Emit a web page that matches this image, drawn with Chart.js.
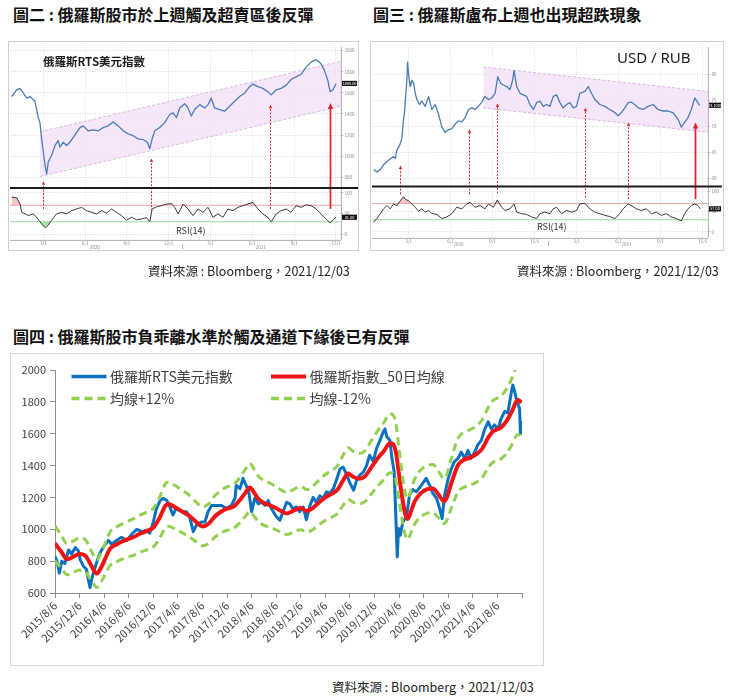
<!DOCTYPE html>
<html lang="zh-Hant">
<head>
<meta charset="utf-8">
<title>俄羅斯股市與盧布</title>
<script src="https://cdn.jsdelivr.net/npm/chart.js@4.4.1/dist/chart.umd.min.js"></script>
<style>
  html, body { margin:0; padding:0; background:#fff; }
  body { width:733px; height:696px; position:relative; overflow:hidden; font-family:"Noto Sans CJK TC","Noto Sans",sans-serif; }
  .title { position:absolute; font-size:16px; font-weight:700; color:#111; line-height:16px; white-space:nowrap; }
  .src { position:absolute; font-size:12.5px; color:#222; line-height:13px; white-space:nowrap; }
  .frame { position:absolute; box-sizing:border-box; border:1px solid #d0d0d0; background:#fff; }
  canvas { position:absolute; }
  .note { position:absolute; white-space:nowrap; line-height:1; }
</style>
</head>
<body>
<div class="title" style="left:13px; top:6px;">圖二 : 俄羅斯股市於上週觸及超賣區後反彈</div>
<div class="title" style="left:373px; top:6px;">圖三 : 俄羅斯盧布上週也出現超跌現象</div>

<div class="frame" style="left:8px; top:41px; width:351px; height:210px;"></div>
<canvas id="fig2" width="348" height="206" style="left:10px; top:43px;"></canvas>
<div class="note" style="left:43px; top:56px; font-size:11.5px; font-weight:700; color:#1b1b1b;">俄羅斯RTS美元指數</div>
<div class="note" style="left:176px; top:226px; font-size:9px; color:#333;">RSI(14)</div>

<div class="frame" style="left:370px; top:41px; width:354px; height:210px;"></div>
<canvas id="fig3" width="350" height="206" style="left:372px; top:43px;"></canvas>
<div class="note" style="left:617px; top:50px; font-size:15px; color:#1b1b1b; font-family:'Liberation Sans Narrow','Noto Sans',sans-serif;">USD / RUB</div>
<div class="note" style="left:537px; top:222px; font-size:9px; color:#333;">RSI(14)</div>

<div class="src" style="left:148px; top:264px;">資料來源 : Bloomberg，2021/12/03</div>
<div class="src" style="left:517px; top:264px;">資料來源 : Bloomberg，2021/12/03</div>

<div class="title" style="left:13px; top:328px;">圖四 : 俄羅斯股市負乖離水準於觸及通道下緣後已有反彈</div>
<div class="frame" style="left:10px; top:353px; width:534px; height:313px; border-color:#d9d9d9;"></div>
<canvas id="fig4" width="532" height="311" style="left:11px; top:354px;"></canvas>
<div class="src" style="left:332px; top:680px;">資料來源 : Bloomberg，2021/12/03</div>

<script>
// ================= 圖四 : 俄羅斯RTS美元指數 (x = months since 2015/8/6) =================
const rtsMonth = [0,0.4,0.7,1.1,1.6,2.2,2.7,3.3,3.8,4.1,4.6,5.1,5.4,5.7,6.0,6.2,6.8,7.3,7.9,8.7,9.2,10.0,10.8,11.7,12.5,13.3,14.1,14.9,15.4,16.0,16.5,17.1,17.6,18.2,18.7,19.2,19.7,20.6,21.4,21.9,22.5,23.0,23.8,24.4,24.9,25.5,26.3,27.1,27.9,28.7,29.3,29.5,30.1,30.6,31.1,31.5,32.0,32.5,33.1,33.6,34.2,34.7,35.2,36.0,36.6,37.1,37.7,38.2,38.7,39.3,39.8,40.4,40.9,41.5,42.0,42.5,43.1,43.6,44.2,44.7,45.3,45.8,46.4,46.9,47.5,48.0,48.6,49.1,49.6,50.2,50.7,51.2,51.8,52.3,52.8,53.4,53.7,54.0,54.5,54.8,55.2,55.5,55.7,55.9,56.2,56.6,57.2,57.7,58.2,58.8,59.6,60.4,61.0,61.5,62.1,62.6,63.0,63.4,64.0,64.5,65.0,65.6,66.1,66.7,67.2,67.7,68.3,68.8,69.4,69.9,70.5,71.0,71.5,72.1,72.6,73.2,73.7,74.2,74.5,74.8,75.2,75.6,75.75,75.9];
const rtsValue = [830,790,725,800,785,870,845,885,865,810,770,750,690,635,690,720,795,850,890,930,905,930,950,930,970,1000,985,995,975,1045,1130,1180,1195,1180,1140,1090,1130,1110,1110,1080,985,1025,1045,1045,1110,1150,1150,1150,1130,1150,1195,1275,1255,1320,1275,1245,1110,1195,1160,1170,1150,1180,1130,1080,1057,1110,1170,1160,1130,1140,1110,1140,1060,1150,1200,1170,1210,1195,1235,1225,1255,1310,1380,1390,1340,1290,1245,1310,1340,1360,1400,1465,1425,1505,1550,1610,1630,1580,1560,1455,1360,1045,827,1005,963,1045,1080,1215,1250,1235,1275,1320,1275,1225,1195,1130,1067,1215,1320,1380,1425,1445,1485,1445,1495,1445,1485,1530,1560,1625,1675,1630,1655,1630,1695,1740,1730,1845,1905,1865,1800,1760,1600,1680];

const maMonth = [0,1,2,3,4,5,6,6.8,7.5,8,9,10,11,12,13,14,15,16,17,18,18.5,19,20,21,22,23,24,25,26,27,28,29,30,31,31.7,32.5,33,34,35,36,37,37.7,39,40,41,42,43,44,45,46,47,47.7,48.5,49.5,50.5,51.5,52.5,53.5,54.5,55,55.5,56,56.5,57,57.4,58,58.5,59.5,60.5,61.5,62.3,63.3,63.7,64.5,65.6,66.5,67.5,68.5,69.5,70.5,71.3,72.6,73.5,74.3,75.1,75.4,75.9];
const maValue = [912,860,812,828,845,832,765,722,760,800,880,905,925,940,955,975,990,1010,1070,1150,1158,1150,1128,1105,1080,1045,1018,1035,1080,1110,1130,1141,1180,1230,1262,1224,1195,1165,1151,1132,1110,1099,1120,1133,1115,1135,1170,1200,1222,1250,1315,1350,1330,1318,1335,1390,1445,1490,1540,1535,1480,1340,1200,1095,1065,1120,1172,1225,1250,1256,1224,1177,1194,1289,1404,1435,1450,1470,1505,1575,1615,1640,1680,1735,1805,1812,1795];
const maUpper = [1021,963,909,927,946,932,857,809,851,896,986,1014,1036,1053,1070,1092,1109,1131,1198,1288,1297,1288,1263,1238,1210,1170,1140,1159,1210,1243,1266,1278,1322,1378,1413,1371,1338,1305,1289,1268,1243,1231,1254,1269,1249,1271,1310,1344,1369,1400,1473,1512,1490,1476,1495,1557,1618,1669,1725,1719,1658,1501,1344,1226,1193,1254,1313,1372,1400,1407,1371,1318,1337,1444,1572,1607,1624,1646,1686,1764,1809,1837,1882,1943,2022,2029,2010];
const maLower = [803,757,715,729,744,732,673,635,669,704,774,796,814,827,840,858,871,889,942,1012,1019,1012,993,972,950,920,896,911,950,977,994,1004,1038,1082,1111,1077,1052,1025,1013,996,977,967,986,997,981,999,1030,1056,1075,1100,1157,1188,1170,1160,1175,1223,1272,1311,1355,1351,1302,1179,1056,964,937,986,1031,1078,1100,1105,1077,1036,1051,1134,1236,1263,1276,1294,1324,1386,1421,1443,1478,1527,1588,1595,1580];

const xTickLabels = ['2015/8/6','2015/12/6','2016/4/6','2016/8/6','2016/12/6','2017/4/6','2017/8/6','2017/12/6','2018/4/6','2018/8/6','2018/12/6','2019/4/6','2019/8/6','2019/12/6','2020/4/6','2020/8/6','2020/12/6','2021/4/6','2021/8/6'];
const seriesLabels = ['俄羅斯RTS美元指數','俄羅斯指數_50日均線','均線+12%','均線-12%'];

// ================= 圖二 : RTS (Bloomberg, x = months since 2020/3/1) =================
const rtsBbMonth = [-2.27,-1.91,-1.67,-1.43,-1.19,-0.95,-0.72,-0.60,-0.48,-0.36,-0.24,-0.12,0,0.12,0.24,0.36,0.48,0.60,0.84,1.07,1.19,1.43,1.67,1.91,2.15,2.39,2.63,2.86,3.22,3.58,3.94,4.30,4.65,5.01,5.37,5.73,6.09,6.44,6.80,7.16,7.47,7.64,7.81,8.00,8.35,8.71,9.07,9.31,9.55,9.79,10.14,10.38,10.62,10.86,11.22,11.58,11.82,12.05,12.29,12.65,13.01,13.37,13.73,14.08,14.44,14.80,15.04,15.40,15.75,16.11,16.35,16.71,17.07,17.43,17.78,18.14,18.50,18.86,19.22,19.57,19.93,20.17,20.41,20.58,20.77,21.01];
const rtsBbPrice = [1566,1628,1643,1597,1550,1566,1535,1520,1442,1364,1318,1163,1039,915,830,946,977,1008,1101,1147,1085,1132,1101,1132,1178,1225,1271,1287,1240,1250,1240,1271,1287,1324,1287,1240,1210,1194,1163,1157,1132,1070,1163,1240,1271,1318,1395,1411,1364,1457,1498,1457,1380,1442,1489,1457,1489,1550,1457,1442,1426,1473,1520,1566,1597,1659,1684,1659,1643,1612,1581,1628,1643,1674,1727,1752,1777,1845,1892,1916,1876,1814,1721,1612,1628,1690];
const rtsRsiMonth = [-2.27,-1.91,-1.67,-1.55,-1.31,-1.07,-0.72,-0.48,-0.24,0,0.17,0.36,0.60,0.95,1.31,1.67,2.03,2.39,2.75,3.10,3.46,3.82,4.18,4.54,4.89,5.25,5.61,5.97,6.33,6.68,7.04,7.40,7.64,7.81,8.12,8.47,8.83,9.19,9.43,9.67,10.03,10.38,10.74,11.10,11.46,11.82,12.17,12.53,12.89,13.25,13.61,13.96,14.32,14.68,15.04,15.40,15.75,16.11,16.35,16.71,17.07,17.43,17.78,18.14,18.50,18.86,19.22,19.57,19.93,20.29,20.58,20.77,21.01];
const rtsRsiValue = [90,88,73,53,49,45,49,41,30,20,16,22,34,49,53,49,57,61,65,57,53,49,57,51,61,53,45,34,41,35,37,40,30,61,66,69,73,74,65,49,73,61,45,61,53,65,41,49,41,61,57,65,69,73,77,61,49,41,30,49,57,61,53,69,65,71,69,61,49,37,27,34,41];
const rtsChanMonth = [-0.24, 21.36];
const rtsChanUpper = [1231, 1901];
const rtsChanLower = [806, 1473];
const rtsArrowMonth = [0, 7.71, 16.30, 20.60];
const rtsArrowRsi = [61, 57, 61, 61];
const rtsArrowPrice = [760, 977, 1488, 1504];
const rtsArrowSolid = [false, false, false, true];
const rtsPriceTicks = [800, 1000, 1200, 1400, 1600, 1800, 2000];
const rtsYearMonth = [3.7, 15.6];

// ================= 圖三 : USD/RUB (Bloomberg, x = months since 2020/3/1) =================
const rubMonth = [-2.49,-2.26,-2.02,-1.78,-1.54,-1.31,-1.07,-0.95,-0.83,-0.59,-0.48,-0.36,-0.29,-0.24,-0.12,-0.07,0.02,0.12,0.24,0.36,0.48,0.59,0.78,0.95,1.19,1.43,1.66,1.90,2.14,2.38,2.61,2.85,3.09,3.33,3.56,3.80,4.04,4.28,4.51,4.75,4.99,5.23,5.46,5.70,5.94,6.18,6.37,6.58,6.77,7.01,7.24,7.43,7.53,7.72,7.96,8.19,8.43,8.67,8.91,9.14,9.38,9.62,9.86,10.09,10.33,10.57,10.81,11.04,11.28,11.52,11.76,11.99,12.23,12.59,12.83,13.06,13.30,13.66,14.01,14.37,14.73,14.96,15.20,15.44,15.68,15.91,16.15,16.39,16.74,17.10,17.46,17.81,18.17,18.53,18.88,19.24,19.48,19.71,19.95,20.19,20.43,20.59,20.78];
const rubValue = [61.75,61.3,61.75,62.7,63.3,63.8,64.25,63.9,65.5,66.75,67.7,71.4,72.7,74.6,78.9,82.4,79.6,77.7,78.9,78.3,76.4,75.2,74.25,74.9,73.9,75.8,73.3,74.25,72.4,69.9,68.9,69.4,69.6,70.5,71.1,70.9,71.75,73.3,73.6,73.3,73.9,74.7,75.8,75.2,75.5,76.4,79.6,78.3,78.0,77.7,77.1,78.9,80.8,77.7,76.4,76.1,75.8,74.25,73.3,74.6,74.9,73.9,74.25,73.9,75.8,76.1,74.6,73.6,74.25,74.6,73.6,73.9,76.4,76.75,77.7,76.4,75.2,74.25,73.9,73.3,72.7,72.1,72.7,73.6,74.6,74.7,74.25,73.6,73.3,73.9,74.25,73.3,73.0,73.0,72.7,71.4,69.9,70.8,71.75,73.3,75.5,74.9,74.1];
const rubRsiMonth = [-2.49,-2.26,-2.02,-1.78,-1.54,-1.31,-1.07,-0.83,-0.59,-0.36,-0.24,0,0.24,0.48,0.71,0.95,1.19,1.43,1.66,2.02,2.38,2.73,3.09,3.44,3.80,4.16,4.39,4.75,5.11,5.46,5.70,6.06,6.34,6.65,6.89,7.24,7.53,7.72,8.08,8.43,8.79,9.14,9.38,9.74,10.09,10.33,10.57,10.93,11.28,11.64,11.99,12.23,12.59,12.94,13.30,13.66,14.01,14.37,14.73,15.08,15.32,15.68,15.91,16.27,16.63,16.98,17.34,17.69,18.05,18.41,18.76,19.12,19.48,19.71,19.95,20.19,20.43,20.66,20.83];
const rubRsiValue = [24,33,45,57,65,57,69,65,77,87,81,77,69,61,51,57,49,53,46,43,33,37,45,61,57,69,73,61,65,57,69,61,79,61,53,57,69,49,45,43,37,33,45,49,45,57,61,45,53,49,53,69,71,57,49,45,41,38,33,45,57,69,65,57,53,57,45,49,41,45,37,33,27,45,57,65,69,65,57];
const rubChanMonth = [5.34, 21.38];
const rubChanUpper = [81.44, 76.75];
const rubChanLower = [73.6, 68.94];
const rubArrowMonth = [-0.64, 4.28, 6.34, 12.59, 15.68, 20.43];
const rubArrowRsi = [93, 93, 95, 85, 81, 81];
const rubArrowPrice = [62.56, 69.44, 74.44, 73.63, 70.8, 70.8];
const rubArrowSolid = [false, false, false, false, false, true];
const rubPriceTicks = [60, 65, 70, 75, 80];
const rubYearMonth = [3.56, 15.56];

// shared Bloomberg axis data
const bbTickMonth = [0, 3, 6, 9, 12, 15, 18, 21];
const bbTickLabels = ['3/1','6/1','9/1','12/1','3/1','6/1','9/1','12/1'];
const bbYearLabels = ['2020', '2021'];
const bbYearBreakMonth = 10;
const rsiTicks = [0, 50, 100];
const RSI_HIGH = 70, RSI_LOW = 30;

// =====================================================================
const FONT = '"Noto Sans CJK TC", "Noto Sans", sans-serif';
Chart.defaults.font.family = FONT;
Chart.defaults.animation = false;

function pts(xs, ys) { return xs.map((x, i) => ({ x: x, y: ys[i] })); }

function bloomberg(canvasId, d) {
  const rsiPts = pts(d.rsiX, d.rsiY);
  const edges = [d.xMin, d.xMax];
  const extras = {
    id: 'bbExtras',
    afterDatasetsDraw(chart) {
      const { ctx, chartArea: a } = chart;
      const x = chart.scales.x, yP = chart.scales.yP, yR = chart.scales.yR;
      ctx.save();
      ctx.setLineDash([]);
      ctx.strokeStyle = '#9a9a9a'; ctx.lineWidth = 0.8;
      ctx.beginPath();
      ctx.moveTo(a.right + 0.4, a.top); ctx.lineTo(a.right + 0.4, a.bottom);
      ctx.moveTo(a.left, a.bottom + 0.4); ctx.lineTo(a.right, a.bottom + 0.4);
      const yb = x.getPixelForValue(bbYearBreakMonth);
      ctx.moveTo(yb, a.bottom + d.yearDy - 3); ctx.lineTo(yb, a.bottom + d.yearDy + 2);
      ctx.stroke();
      // arrows
      d.arrowX.forEach((m, i) => {
        const px = Math.round(x.getPixelForValue(m)) + 0.5;
        const y0 = yR.getPixelForValue(d.arrowRsi[i]);
        const y1 = yP.getPixelForValue(d.arrowPx[i]);
        const solid = d.arrowSolid[i];
        const head = solid ? 6 : 3.5, hw = solid ? 2.8 : 1.7;
        ctx.strokeStyle = '#e3262b'; ctx.fillStyle = '#e3262b';
        ctx.lineWidth = solid ? 1.8 : 1;
        ctx.setLineDash(solid ? [] : [2, 1.5]);
        ctx.beginPath(); ctx.moveTo(px, y0); ctx.lineTo(px, y1 + head - 0.5); ctx.stroke();
        ctx.setLineDash([]);
        ctx.beginPath(); ctx.moveTo(px, y1); ctx.lineTo(px - hw, y1 + head); ctx.lineTo(px + hw, y1 + head); ctx.closePath(); ctx.fill();
      });
      // panel separator
      ctx.strokeStyle = '#1c1c1c'; ctx.lineWidth = 2;
      ctx.beginPath(); ctx.moveTo(0, yR.top); ctx.lineTo(chart.width, yR.top); ctx.stroke();
      // last value tags
      const tag = (scale, v, txt) => {
        const cy = scale.getPixelForValue(v);
        ctx.fillStyle = '#111';
        ctx.fillRect(a.right + 1, cy - 2.6, d.tagW, 5.2);
        ctx.fillStyle = '#fff'; ctx.font = '3.8px ' + FONT;
        ctx.textAlign = 'center'; ctx.textBaseline = 'middle';
        ctx.fillText(txt, a.right + 1 + d.tagW / 2, cy + 0.2);
      };
      const lastP = d.pxY[d.pxY.length - 1], lastR = d.rsiY[d.rsiY.length - 1];
      tag(yP, lastP, lastP.toFixed(d.priceDigits));
      tag(yR, lastR, lastR.toFixed(2));
      // year labels
      ctx.fillStyle = '#8a8a8a'; ctx.font = '4.5px ' + FONT;
      ctx.textAlign = 'center'; ctx.textBaseline = 'middle';
      d.yearX.forEach((m, i) => ctx.fillText(d.yearText[i], x.getPixelForValue(m), a.bottom + d.yearDy));
      ctx.restore();
    }
  };
  const tickFont = { size: 4.5 };
  return new Chart(document.getElementById(canvasId), {
    type: 'line',
    data: { datasets: [
      { data: pts(d.chanX, d.chanUp), yAxisID: 'yP', borderColor: '#d6a6dc', borderWidth: 0.8, borderDash: [3, 2], fill: false, order: 6 },
      { data: pts(d.chanX, d.chanLo), yAxisID: 'yP', borderColor: '#d6a6dc', borderWidth: 0.8, borderDash: [3, 2], fill: '-1', backgroundColor: 'rgba(242,224,248,0.8)', order: 7 },
      { data: pts(edges, [RSI_HIGH, RSI_HIGH]), yAxisID: 'yR', borderColor: '#efa3a6', borderWidth: 1, fill: false, order: 5 },
      { data: pts(edges, [RSI_LOW, RSI_LOW]), yAxisID: 'yR', borderColor: '#9fdc9f', borderWidth: 1, fill: false, order: 5 },
      { data: rsiPts, yAxisID: 'yR', borderColor: 'rgba(0,0,0,0)', borderWidth: 0, fill: { target: { value: RSI_LOW }, above: 'rgba(0,0,0,0)', below: 'rgba(140,215,140,0.75)' }, order: 4 },
      { data: rsiPts, yAxisID: 'yR', borderColor: '#262626', borderWidth: 0.9, fill: { target: { value: RSI_HIGH }, above: 'rgba(242,165,165,0.65)', below: 'rgba(0,0,0,0)' }, order: 3 },
      { data: pts(d.pxX, d.pxY), yAxisID: 'yP', borderColor: '#4a7db6', borderWidth: 1.3, fill: false, order: 1 }
    ]},
    options: {
      responsive: false, animation: false, events: [],
      layout: { padding: 0 },
      elements: { point: { radius: 0 }, line: { tension: 0, borderJoinStyle: 'round' } },
      plugins: { legend: { display: false }, tooltip: { enabled: false } },
      scales: {
        x: {
          type: 'linear', min: d.xMin, max: d.xMax,
          afterBuildTicks: ax => { ax.ticks = bbTickMonth.map(v => ({ value: v })); },
          afterFit: ax => { ax.height = d.xAxisH; },
          ticks: { autoSkip: false, maxRotation: 0, minRotation: 0, padding: 0.5, color: '#8a8a8a', font: tickFont, callback: (v, i) => bbTickLabels[i] },
          grid: { color: '#d2d2d2', lineWidth: 0.7, drawTicks: false },
          border: { display: false, dash: [1, 1.5] }
        },
        yP: {
          type: 'linear', position: 'right', stack: 'bb', stackWeight: d.wP, min: d.pMin, max: d.pMax,
          afterBuildTicks: ax => { ax.ticks = d.pTicks.map(v => ({ value: v })); },
          afterFit: ax => { ax.width = d.yAxisW; },
          ticks: { padding: 1.5, color: '#8a8a8a', font: tickFont, callback: v => String(v) },
          grid: { color: '#cdcdcd', lineWidth: 0.7, tickLength: 2, tickColor: '#9a9a9a' },
          border: { display: false, dash: [1, 1.5] }
        },
        yR: {
          type: 'linear', position: 'right', stack: 'bb', stackWeight: 1, min: d.rMin, max: d.rMax,
          afterBuildTicks: ax => { ax.ticks = rsiTicks.map(v => ({ value: v })); },
          afterFit: ax => { ax.width = d.yAxisW; },
          ticks: { padding: 1.5, color: '#8a8a8a', font: tickFont, callback: v => String(v) },
          grid: { color: '#cdcdcd', lineWidth: 0.7, tickLength: 2, tickColor: '#9a9a9a' },
          border: { display: false, dash: [1, 1.5] }
        }
      }
    },
    plugins: [extras]
  });
}

bloomberg('fig2', {
  pxX: rtsBbMonth, pxY: rtsBbPrice, rsiX: rtsRsiMonth, rsiY: rtsRsiValue,
  chanX: rtsChanMonth, chanUp: rtsChanUpper, chanLo: rtsChanLower,
  arrowX: rtsArrowMonth, arrowRsi: rtsArrowRsi, arrowPx: rtsArrowPrice, arrowSolid: rtsArrowSolid,
  yearX: rtsYearMonth, yearText: bbYearLabels, pTicks: rtsPriceTicks,
  xMin: -2.39, xMax: 21.36, pMin: 698, pMax: 2034, rMin: -14, rMax: 112, wP: 2.7,
  xAxisH: 9, yAxisW: 17, yearDy: 7, tagW: 15, priceDigits: 2
});

bloomberg('fig3', {
  pxX: rubMonth, pxY: rubValue, rsiX: rubRsiMonth, rsiY: rubRsiValue,
  chanX: rubChanMonth, chanUp: rubChanUpper, chanLo: rubChanLower,
  arrowX: rubArrowMonth, arrowRsi: rubArrowRsi, arrowPx: rubArrowPrice, arrowSolid: rubArrowSolid,
  yearX: rubYearMonth, yearText: bbYearLabels, pTicks: rubPriceTicks,
  xMin: -2.61, xMax: 21.38, pMin: 58.5, pMax: 85.25, rMin: -15, rMax: 112, wP: 2.71,
  xAxisH: 11, yAxisW: 14, yearDy: 6, tagW: 12, priceDigits: 4
});

// ---------------- 圖四 main chart ----------------
const insideLegend = {
  id: 'insideLegend',
  afterDraw(chart) {
    const { ctx, chartArea: a } = chart;
    ctx.save();
    ctx.font = '14px ' + FONT; ctx.textBaseline = 'middle'; ctx.textAlign = 'left';
    chart.data.datasets.forEach((ds, i) => {
      const x0 = a.left + (i % 2 ? 216 : 16.5);
      const y = a.top + (i < 2 ? 6.5 : 28.5);
      ctx.strokeStyle = ds.borderColor;
      ctx.lineWidth = Math.max(ds.borderWidth, 3.6);
      ctx.setLineDash(ds.borderDash || []);
      ctx.beginPath(); ctx.moveTo(x0, y); ctx.lineTo(x0 + 35, y); ctx.stroke();
      ctx.setLineDash([]);
      ctx.fillStyle = '#404040';
      ctx.fillText(ds.label, x0 + 38.5, y + 0.5);
    });
    ctx.restore();
  }
};

const BLUE = '#0a70c0', RED = '#f01414', GREEN = '#92d050';
new Chart(document.getElementById('fig4'), {
  type: 'line',
  data: { datasets: [
    { label: seriesLabels[0], data: pts(rtsMonth, rtsValue), borderColor: BLUE, borderWidth: 3, tension: 0, order: 4 },
    { label: seriesLabels[1], data: pts(maMonth, maValue), borderColor: RED, borderWidth: 4, cubicInterpolationMode: 'monotone', order: 3 },
    { label: seriesLabels[2], data: pts(maMonth, maUpper), borderColor: GREEN, borderWidth: 3, borderDash: [8, 5], cubicInterpolationMode: 'monotone', order: 2 },
    { label: seriesLabels[3], data: pts(maMonth, maLower), borderColor: GREEN, borderWidth: 3, borderDash: [8, 5], cubicInterpolationMode: 'monotone', order: 1 }
  ]},
  options: {
    responsive: false, animation: false, events: [],
    layout: { padding: { top: 16, right: 21, left: 0, bottom: 0 } },
    elements: { point: { radius: 0 }, line: { borderJoinStyle: 'round', fill: false } },
    plugins: { legend: { display: false }, tooltip: { enabled: false } },
    scales: {
      x: {
        type: 'linear', min: 0, max: 76,
        afterBuildTicks: ax => { ax.ticks = xTickLabels.concat(['']).map((_, i) => ({ value: i * 4 })); },
        afterFit: ax => { ax.height = 72; },
        ticks: { autoSkip: false, minRotation: 45, maxRotation: 45, padding: 1, color: '#404040', font: { size: 11 }, callback: (v, i) => xTickLabels[i] || '' },
        grid: { drawOnChartArea: false, drawTicks: true, tickLength: 5, color: '#8c8c8c' },
        border: { color: '#8c8c8c', width: 1 }
      },
      y: {
        type: 'linear', min: 600, max: 2000,
        afterFit: ax => { ax.width = 44; },
        ticks: { stepSize: 200, padding: 4, color: '#404040', font: { size: 11 }, callback: v => String(v) },
        grid: { drawOnChartArea: false, drawTicks: true, tickLength: 5, color: '#8c8c8c' },
        border: { color: '#8c8c8c', width: 1 }
      }
    }
  },
  plugins: [insideLegend]
});
</script>
</body>
</html>
